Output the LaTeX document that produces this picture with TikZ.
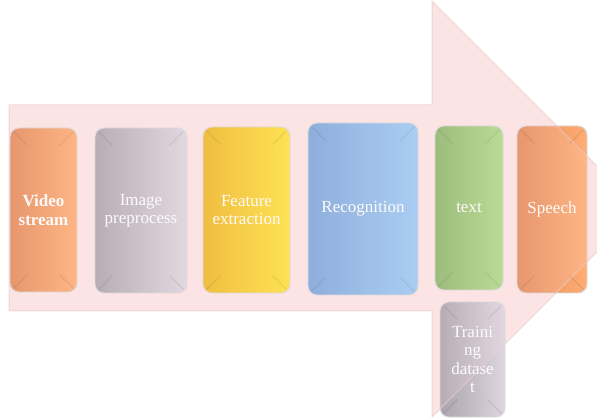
\documentclass[tikz,border=0pt]{standalone}
\usepackage{fontspec}
\setmainfont{Liberation Serif}
\usetikzlibrary{calc}
\definecolor{arrowpink}{HTML}{FCE3E4}
\definecolor{arrowedge}{HTML}{E8CDD0}
\definecolor{orL}{HTML}{E48A5A}\definecolor{orM}{HTML}{F09C68}\definecolor{orR}{HTML}{FFAE74}
\definecolor{grL}{HTML}{ACA4AC}\definecolor{grM}{HTML}{BEB6BE}\definecolor{grR}{HTML}{DED6E0}
\definecolor{yeL}{HTML}{EEB824}\definecolor{yeM}{HTML}{F8C830}\definecolor{yeR}{HTML}{FFE23C}
\definecolor{blL}{HTML}{7CA6DA}\definecolor{blM}{HTML}{88B2E4}\definecolor{blR}{HTML}{9CCAF6}
\definecolor{gnL}{HTML}{8CB66A}\definecolor{gnM}{HTML}{9CC078}\definecolor{gnR}{HTML}{B0DA8A}
\tikzset{
  procbox/.style={rounded corners=9pt, draw=black!15, line width=0.9pt,
    text=white, font=\fontsize{17}{18.5}\selectfont, align=center,
    inner sep=0pt},
  bevline/.style={black, opacity=0.07, line width=1.5pt},
}
\newcommand\mybev[1]{%
  \draw[bevline] ($(#1.north west)+(4,-4)$) -- ++(14,-14);
  \draw[bevline] ($(#1.north east)+(-4,-4)$) -- ++(-14,-14);
  \draw[bevline] ($(#1.south west)+(4,4)$) -- ++(14,14);
  \draw[bevline] ($(#1.south east)+(-4,4)$) -- ++(-14,14);
}
\begin{document}
\begin{tikzpicture}[x=1pt,y=1pt]
\useasboundingbox (0,0) rectangle (597,-419);
\begin{scope}
\clip (0,0) rectangle (597,-419);
% arrow background
\fill[arrowpink] (9,-105) -- (432,-105) -- (432,-1) -- (640,-209) -- (432,-417) -- (432,-311) -- (9,-311) -- cycle;
% boxes
\node[procbox, left color=orL, middle color=orM, right color=orR, minimum width=67pt, minimum height=164pt] (vid) at (43.5,-210) {\textbf{Video}\\\textbf{stream}};
\node[procbox, left color=grL, middle color=grM, right color=grR, minimum width=92pt, minimum height=165pt] (img) at (141,-210.5) {Image\\preprocess};
\node[procbox, left color=yeL, middle color=yeM, right color=yeR, minimum width=87pt, minimum height=166pt] (feat) at (246.5,-210) {Feature\\extraction};
\node[procbox, left color=blL, middle color=blM, right color=blR, minimum width=110pt, minimum height=172pt] (rec) at (363,-209) {Recognition};
\node[procbox, left color=gnL, middle color=gnM, right color=gnR, minimum width=68pt, minimum height=164pt] (txt) at (469,-208) {text};
\node[procbox, left color=orL, middle color=orM, right color=orR, minimum width=70pt, minimum height=167pt] (sp) at (552,-209.5) {Speech};
\node[procbox, left color=grL, middle color=grM, right color=grR, minimum width=65pt, minimum height=115pt] (train) at (472.5,-359.5) {Traini\\ng\\datase\\t};
\mybev{vid}\mybev{img}\mybev{feat}\mybev{rec}\mybev{txt}\mybev{sp}\mybev{train}
% translucent arrow overlay
\fill[arrowpink, fill opacity=0.15] (9,-105) -- (432,-105) -- (432,-1) -- (640,-209) -- (432,-417) -- (432,-311) -- (9,-311) -- cycle;
\draw[arrowedge, line width=1pt, opacity=0.7, line join=miter] (9,-105) -- (432,-105) -- (432,-1) -- (640,-209) -- (432,-417) -- (432,-311) -- (9,-311) -- cycle;
\end{scope}
\end{tikzpicture}
\end{document}
